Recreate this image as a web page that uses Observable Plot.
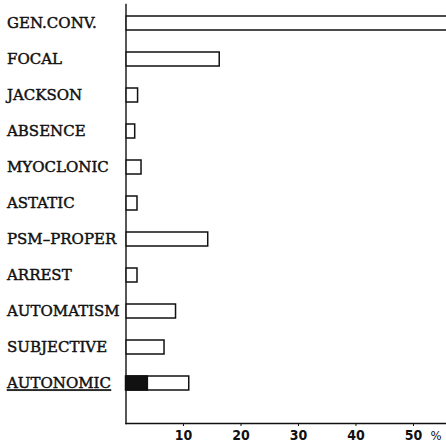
<!DOCTYPE html>
<html>
<head>
<meta charset="utf-8">
<script src="https://cdn.jsdelivr.net/npm/d3@7"></script>
<script src="https://cdn.jsdelivr.net/npm/@observablehq/plot@0.6"></script>
<style>
  html, body { margin: 0; padding: 0; background: #fff; overflow: hidden; }
  svg { display: block; }
</style>
</head>
<body>
<div id="chart"></div>
<script>
const categories = ["GEN.CONV.", "FOCAL", "JACKSON", "ABSENCE", "MYOCLONIC", "ASTATIC",
  "PSM–PROPER", "ARREST", "AUTOMATISM", "SUBJECTIVE", "AUTONOMIC"];
const totals = [60, 16.3, 2.1, 1.6, 2.7, 2.0, 14.3, 2.0, 8.7, 6.7, 11.0];
const filledCategories = ["AUTONOMIC"];
const filledValues = [3.8];
const xTicks = [10, 20, 30, 40, 50];
const unitLabel = "%";
const underlined = "AUTONOMIC";

const bars = categories.map((c, i) => ({category: c, value: totals[i]}));
const filled = filledCategories.map((c, i) => ({category: c, value: filledValues[i]}));

const plot = Plot.plot({
  width: 446,
  height: 447,
  marginLeft: 125.5,
  marginRight: 0,
  marginTop: 4,
  marginBottom: 24,
  x: {domain: [0, 55.74], ticks: xTicks},
  y: {domain: categories, paddingInner: 0.62, paddingOuter: 0.515, align: 0.26},
  style: {background: "#fff", color: "#111"},
  marks: [
    Plot.barX(bars, {x: "value", y: "category", fill: "white", stroke: "#111", strokeWidth: 1.5, clip: true}),
    Plot.barX(filled, {x: "value", y: "category", fill: "#111", stroke: "#111", strokeWidth: 1.5}),
    Plot.frame({anchor: "left", stroke: "#111", strokeWidth: 1.4}),
    Plot.frame({anchor: "bottom", stroke: "#111", strokeWidth: 1.4}),
    Plot.axisY({tickSize: 0, tickPadding: 0, textAnchor: "start", dx: -119,
      label: null, fontFamily: "DejaVu Serif", fontSize: 15, fill: "#111"}),
    Plot.axisX({ticks: xTicks, tickSize: 3, tickPadding: 4, label: null,
      fontFamily: "'Liberation Sans Narrow', 'DejaVu Sans Condensed', sans-serif",
      fontSize: 14, fontWeight: "bold", fill: "#111"}),
    Plot.text([unitLabel], {frameAnchor: "bottom-right", text: d => d, dx: -5, dy: 16,
      fontFamily: "'DejaVu Sans Condensed', sans-serif", fontSize: 13, fill: "#111", textAnchor: "end"})
  ]
});

// embolden the category labels slightly, like the printed original
d3.select(plot).selectAll("text").filter(function() { return categories.includes(this.textContent); })
  .style("stroke", "#111")
  .style("stroke-width", "0.45px");

d3.select(plot).selectAll("text").filter(function() { return this.textContent === underlined; })
  .style("text-decoration", "underline")
  .style("text-decoration-thickness", "2px")
  .style("text-underline-offset", "3px");

document.getElementById("chart").appendChild(plot);
</script>
</body>
</html>
